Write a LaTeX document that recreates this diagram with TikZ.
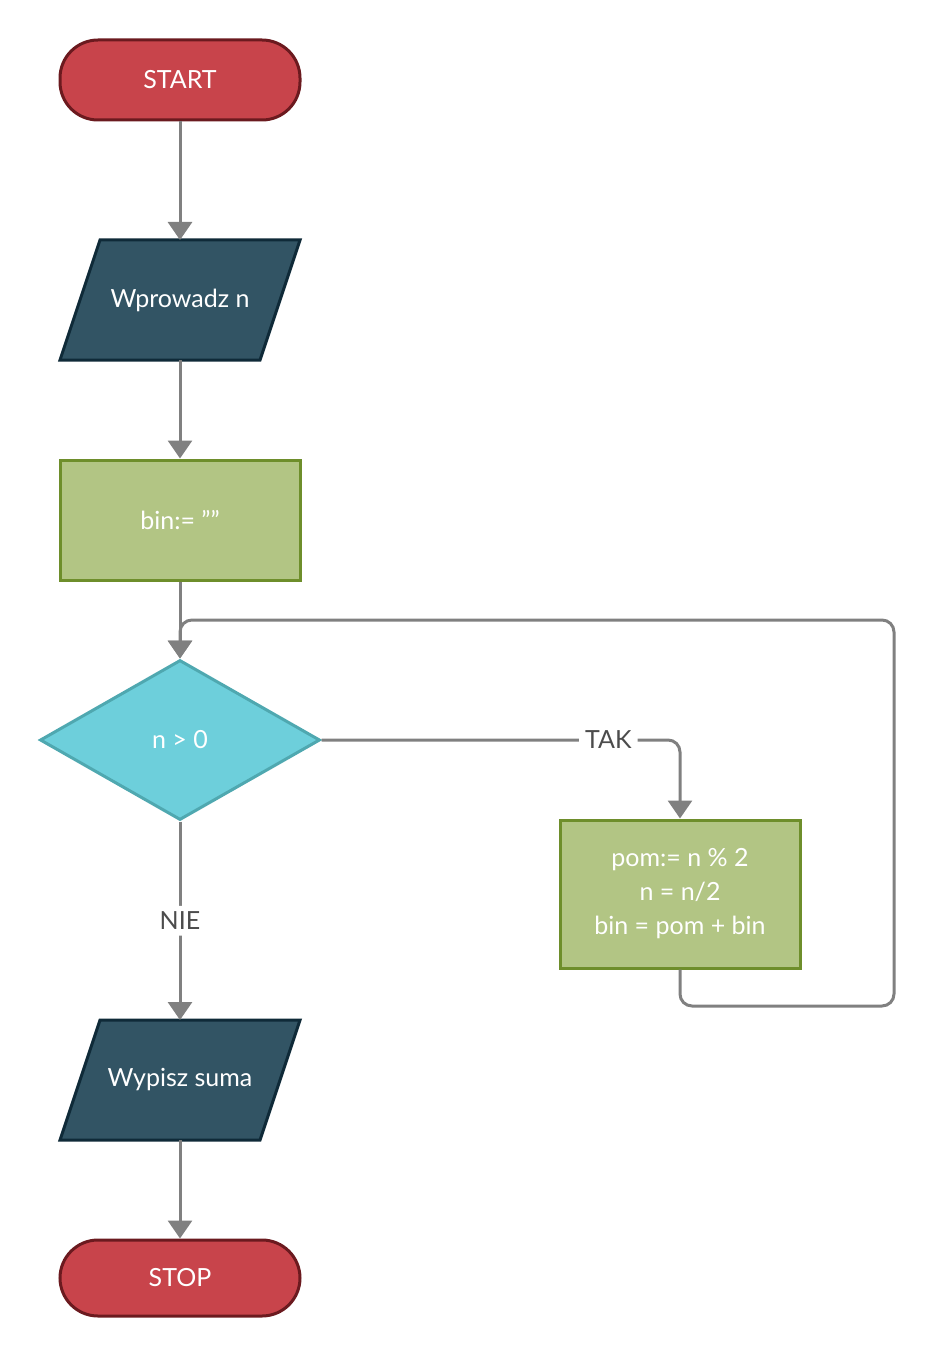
\documentclass[tikz,border=0pt]{standalone}
\usepackage{fontspec}
\setmainfont{Lato}
\usetikzlibrary{arrows.meta,shapes.geometric}
\definecolor{rfill}{HTML}{C8444B}\definecolor{rdraw}{HTML}{6B1A1F}
\definecolor{dfill}{HTML}{325464}\definecolor{ddraw}{HTML}{0F2A38}
\definecolor{gfill}{HTML}{B2C584}\definecolor{gdraw}{HTML}{6E8E2B}
\definecolor{cfill}{HTML}{6DCFDB}\definecolor{cdraw}{HTML}{4FA8B0}
\definecolor{ln}{HTML}{808080}
\begin{document}
\begin{tikzpicture}[x=1pt,y=-1pt,
  txt/.style={text=white,font=\fontsize{25}{34}\selectfont,align=center},
  term/.style={txt,draw=rdraw,fill=rfill,line width=3pt,rounded corners=38pt,minimum width=240pt,minimum height=80pt},
  iobox/.style={txt,minimum width=240pt,minimum height=120pt,inner sep=0pt},
  proc/.style={txt,draw=gdraw,fill=gfill,line width=3pt,minimum width=240pt,minimum height=120pt},
  conn/.style={draw=ln,line width=3pt,rounded corners=12pt,-{Triangle[length=18pt,width=24pt]}},
  lab/.style={font=\fontsize{25}{30}\selectfont,text=black!70,fill=white,inner sep=6pt}]
\useasboundingbox (0,0) rectangle (934,1356);
\node[term] (start) at (180,80) {START};
\filldraw[fill=dfill,draw=ddraw,line width=3pt] (100,240)--(300,240)--(260,360)--(60,360)--cycle;
\node[iobox] (in) at (180,300) {Wprowadz n};
\node[proc] (bin) at (180,520) {bin:= ""};
\node[txt,diamond,draw=cdraw,fill=cfill,line width=3pt,aspect=1.75,minimum width=280pt,minimum height=160pt,inner sep=0pt] (dec) at (180,740) {n > 0};
\node[proc,minimum height=148pt] (pom) at (680,894) {pom:= n \% 2\\n = n/2\\bin = pom + bin};
\filldraw[fill=dfill,draw=ddraw,line width=3pt] (100,1020)--(300,1020)--(260,1140)--(60,1140)--cycle;
\node[iobox] (out) at (180,1080) {Wypisz suma};
\node[term,minimum height=76pt] (stop) at (180,1278) {STOP};
\draw[conn] (start) -- (180,240);
\draw[conn] (180,360) -- (bin);
\draw[conn] (bin) -- (dec);
\draw[conn] (dec.east) -| (pom.north) node[lab,pos=0.4] {TAK};
\draw[conn] (dec.south) -- (180,1020) node[lab,pos=0.5] {NIE};
\draw[conn] (180,1140) -- (stop);
\draw[conn] (pom.south) -- (680,1006) -- (894,1006) -- (894,620) -- (180,620) -- (dec.north);
\end{tikzpicture}
\end{document}
